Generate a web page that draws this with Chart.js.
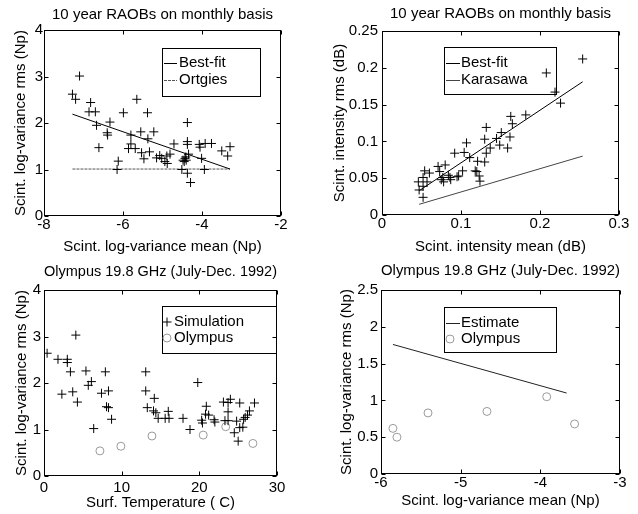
<!DOCTYPE html>
<html>
<head>
<meta charset="utf-8">
<script src="https://cdn.jsdelivr.net/npm/chart.js@4.4.1/dist/chart.umd.min.js"></script>
<style>
  body { margin: 0; background: #fff; }
  #wrap { position: relative; width: 638px; height: 514px; overflow: hidden; }
  canvas { position: absolute; }
</style>
</head>
<body>
<div id="wrap">
  <canvas id="raob-log" width="319" height="257" style="left:0;top:0"></canvas>
  <canvas id="raob-int" width="319" height="257" style="left:319px;top:0"></canvas>
  <canvas id="oly-temp" width="319" height="257" style="left:0;top:257px"></canvas>
  <canvas id="oly-log" width="319" height="257" style="left:319px;top:257px"></canvas>
</div>
<script>
const FONT = "'Liberation Sans', Arial, Helvetica, sans-serif";

// top left: 10 year RAOBs, log-variance (Np)
const raobLogMean = [-7.10, -7.28, -7.20, -6.82, -6.86, -6.70, -6.67, -6.33, -6.40, -6.39, -6.61, -6.12, -6.15, -5.65,
	-5.99, -5.38, -5.55, -5.80, -5.80, -5.86, -5.69, -5.53, -5.47, -5.37, -5.33, -5.22, -5.15, -5.02, -4.89, -4.94,
	-4.88, -4.81, -4.71, -4.51, -4.45, -4.43, -4.37, -4.37, -4.37, -4.34, -4.40, -4.37, -4.29, -4.07, -3.92, -3.76,
	-4.01, -3.94, -3.50, -3.35, -3.29, -5.07, -4.48, -4.05, -4.41];
const raobLogRms = [3.01, 2.62, 2.51, 2.44, 2.24, 2.24, 1.95, 2.02, 1.79, 1.74, 1.47, 1.18, 1.00, 2.51,
	2.22, 2.22, 1.81, 1.74, 1.55, 1.45, 1.45, 1.36, 1.23, 1.66, 1.38, 1.81, 1.25, 1.24, 1.29, 1.17,
	1.13, 1.33, 1.55, 1.00, 1.17, 1.24, 2.01, 1.60, 1.54, 1.33, 1.20, 0.92, 0.72, 1.54, 1.56, 1.56,
	1.24, 1.00, 1.40, 1.29, 1.49, 1.30, 1.20, 1.48, 1.27];
const bestFitLogMean = [-7.28, -3.29];
const bestFitLogRms = [2.19, 1.01];
const ortgiesLogMean = [-7.28, -3.29];
const ortgiesLogRms = [1.01, 1.01];

// top right: 10 year RAOBs, intensity (dB)
const raobIntMean = [0.254, 0.208, 0.219, 0.226, 0.182, 0.163, 0.165, 0.132, 0.151, 0.145, 0.162, 0.130, 0.107, 0.137,
	0.132, 0.159, 0.149, 0.092, 0.104, 0.111, 0.121, 0.130, 0.080, 0.071, 0.073, 0.102, 0.118, 0.120, 0.123, 0.124,
	0.054, 0.060, 0.052, 0.057, 0.046, 0.052, 0.047, 0.052, 0.075, 0.078, 0.086, 0.095, 0.087, 0.097, 0.084, 0.077];
const raobIntRms = [0.212, 0.193, 0.167, 0.152, 0.136, 0.134, 0.124, 0.119, 0.112, 0.104, 0.106, 0.103, 0.098, 0.091,
	0.084, 0.091, 0.095, 0.084, 0.085, 0.078, 0.073, 0.072, 0.068, 0.066, 0.059, 0.060, 0.060, 0.059, 0.053, 0.046,
	0.060, 0.057, 0.051, 0.045, 0.045, 0.039, 0.034, 0.024, 0.048, 0.045, 0.051, 0.052, 0.048, 0.053, 0.054, 0.051];
const bestFitIntMean = [0.047, 0.254];
const bestFitIntRms = [0.033, 0.181];
const karasawaIntMean = [0.047, 0.254];
const karasawaIntRms = [0.0145, 0.080];

// bottom left: Olympus 19.8 GHz vs surface temperature
const simTemp = [0.4, 1.8, 3.0, 3.0, 3.4, 4.1, 2.3, 3.7, 4.3, 5.4, 5.7, 6.1, 6.4, 7.4, 7.9, 8.3, 8.05, 8.3, 8.7,
	13.1, 13.1, 14.2, 13.3, 14.1, 14.4, 14.7, 15.6, 16.0, 16.1, 17.9, 18.8, 19.8, 20.9, 20.8, 21.2, 20.3, 20.4,
	21.9, 22.0, 23.1, 23.7, 24.0, 23.7, 23.3, 23.7, 25.2, 27.1, 26.45, 26.2, 25.9, 25.7, 24.8, 25.2, 25.6, 24.5, 25.0];
const simRms = [2.64, 2.51, 2.51, 2.44, 2.24, 3.03, 1.76, 1.81, 1.59, 2.26, 1.95, 2.03, 1.02, 1.78, 2.24, 1.83, 1.49, 1.47, 1.22,
	2.24, 1.83, 1.67, 1.47, 1.40, 1.36, 1.24, 1.24, 1.39, 1.24, 1.24, 1.00, 2.01, 1.50, 1.33, 1.31, 1.20, 1.14,
	1.21, 1.16, 1.59, 1.58, 1.65, 1.38, 1.19, 1.19, 1.57, 1.57, 1.40, 1.31, 1.26, 1.22, 1.18, 1.04, 1.05, 0.93, 0.75];
const olyTemp = [7.2, 9.9, 13.9, 20.5, 23.4, 26.9];
const olyTempRms = [0.54, 0.64, 0.86, 0.88, 1.06, 0.70];

// bottom right: Olympus 19.8 GHz vs log-variance mean
const olyLogMean = [-5.85, -5.80, -5.41, -4.67, -3.92, -3.57];
const olyLogRms = [0.62, 0.50, 0.83, 0.85, 1.05, 0.68];
const estimateLogMean = [-5.85, -3.67];
const estimateLogRms = [1.76, 1.10];

// tick labels
const ticksLogMean = [-8, -6, -4, -2];
const ticksLogRms = [0, 1, 2, 3, 4];
const ticksIntMean = [0, 0.1, 0.2, 0.3];
const ticksIntRms = [0, 0.05, 0.1, 0.15, 0.2, 0.25];
const ticksTemp = [0, 10, 20, 30];
const ticksOlyMean = [-6, -5, -4, -3];
const ticksOlyRms = [0, 0.5, 1, 1.5, 2, 2.5];

const pts = (xs, ys) => xs.map((x, i) => ({ x, y: ys[i] }));

const crosses = (label, xs, ys) => ({
	label,
	data: pts(xs, ys),
	pointStyle: "cross",
	pointRadius: 4.5,
	pointBorderWidth: 1,
	borderColor: "#000",
	backgroundColor: "#000",
});
const circles = (label, xs, ys) => ({
	label,
	data: pts(xs, ys),
	pointStyle: "circle",
	pointRadius: 4,
	pointBorderWidth: 1,
	borderColor: "#9a9a9a",
	backgroundColor: "rgba(0,0,0,0)",
});
const line = (label, xs, ys, color, dash) => ({
	label,
	data: pts(xs, ys),
	showLine: true,
	pointRadius: 0,
	borderWidth: 1,
	borderColor: color,
	borderDash: dash || [],
});

// box round the axes, inward ticks on all sides, and the boxed legend
const frame = {
	id: "frame",
	afterDatasetsDraw(chart, args, opts) {
		const { ctx, chartArea: a, scales } = chart;
		const L = Math.round(a.left) + 0.5, R = Math.round(a.right) - 0.5;
		const T = Math.round(a.top) + 0.5, B = Math.round(a.bottom) - 0.5;
		ctx.save();
		ctx.strokeStyle = "#000";
		ctx.lineWidth = 1;
		ctx.setLineDash([]);
		ctx.strokeRect(L, T, R - L, B - T);
		ctx.beginPath();
		scales.x.ticks.forEach((t) => {
			const px = Math.round(scales.x.getPixelForValue(t.value)) + 0.5;
			ctx.moveTo(px, B); ctx.lineTo(px, B - 4);
			ctx.moveTo(px, T); ctx.lineTo(px, T + 4);
		});
		scales.y.ticks.forEach((t) => {
			const py = Math.round(scales.y.getPixelForValue(t.value)) + 0.5;
			ctx.moveTo(L, py); ctx.lineTo(L + 4, py);
			ctx.moveTo(R, py); ctx.lineTo(R - 4, py);
		});
		ctx.stroke();

		const lg = opts.legend;
		if (lg) {
			const [bl, bt, br, bb] = lg.box;
			ctx.strokeRect(bl + 0.5, bt + 0.5, br - bl, bb - bt);
			ctx.font = "15px " + FONT;
			ctx.fillStyle = "#000";
			ctx.textBaseline = "middle";
			ctx.textAlign = "left";
			lg.items.forEach((di, i) => {
				const ds = chart.data.datasets[di];
				const y = lg.rows[i];
				ctx.strokeStyle = ds.borderColor;
				if (ds.showLine) {
					ctx.setLineDash(ds.borderDash);
					ctx.beginPath();
					ctx.moveTo(lg.sample[0], y + 0.5);
					ctx.lineTo(lg.sample[1], y + 0.5);
					ctx.stroke();
					ctx.setLineDash([]);
				} else {
					ctx.fillStyle = ds.backgroundColor;
					Chart.helpers.drawPoint(ctx, { pointStyle: ds.pointStyle, radius: ds.pointRadius, rotation: 0, borderWidth: 1 }, lg.marker, y);
					ctx.fillStyle = "#000";
				}
				ctx.fillText(ds.label, lg.textX, y);
			});
		}
		ctx.restore();
	},
};

const makePanel = (id, p) => {
	const tickFont = { family: FONT, size: 15, lineHeight: 1 };
	const titleFont = { family: FONT, size: 15, weight: "normal", lineHeight: 1.2 };
	const axis = (vals, range, fit, tickPad, titleText, titlePad) => ({
		type: "linear",
		min: range[0],
		max: range[1],
		afterBuildTicks: (s) => {
			s.ticks = vals.map((v) => ({ value: v }));
		},
		afterFit: fit,
		grid: { display: false, drawTicks: false },
		border: { display: false },
		ticks: {
			color: "#000",
			font: tickFont,
			padding: tickPad,
			autoSkip: false,
			maxRotation: 0,
			callback: (v) => String(v),
		},
		title: { display: true, text: titleText, color: "#000", font: titleFont, padding: titlePad },
	});

	new Chart(document.getElementById(id), {
		type: "scatter",
		data: { datasets: p.datasets },
		options: {
			responsive: false,
			animation: false,
			layout: { padding: { top: 0, right: p.padRight, bottom: 0, left: 0 } },
			plugins: {
				legend: { display: false },
				tooltip: { enabled: false },
				title: {
					display: true,
					text: p.title,
					fullSize: false,
					color: "#000",
					font: titleFont,
					padding: { top: p.titlePad[0], bottom: p.titlePad[1] },
				},
				frame: { legend: p.legend },
			},
			scales: {
				x: axis(p.xTicks, p.xRange, (s) => { s.height = p.xHeight; }, p.xTickPad, p.xTitle, { top: 0, bottom: p.xTitlePad }),
				y: axis(p.yTicks, p.yRange, (s) => { s.width = p.yWidth; }, p.yTickPad, p.yTitle, { top: p.yTitlePad, bottom: 0 }),
			},
		},
		plugins: [frame],
	});
};

makePanel("raob-log", {
	title: "10 year RAOBs on monthly basis",
	titlePad: [6, 6],
	padRight: 38,
	xHeight: 41, yWidth: 44,
	xTickPad: 1, yTickPad: 1,
	xTitlePad: 1, yTitlePad: 12,
	xTicks: ticksLogMean, xRange: [-8, -2],
	yTicks: ticksLogRms, yRange: [0, 4],
	xTitle: "Scint. log-variance mean (Np)",
	yTitle: "Scint. log-variance rms (Np)",
	datasets: [
		crosses("RAOB", raobLogMean, raobLogRms),
		line("Best-fit", bestFitLogMean, bestFitLogRms, "#000"),
		line("Ortgies", ortgiesLogMean, ortgiesLogRms, "#555", [3, 1]),
	],
	legend: { box: [162, 48, 260, 96], rows: [63, 80], sample: [164, 177], textX: 179, items: [1, 2] },
});

makePanel("raob-int", {
	title: "10 year RAOBs on monthly basis",
	titlePad: [5, 8],
	padRight: 19,
	xHeight: 42, yWidth: 63,
	xTickPad: 1, yTickPad: 4,
	xTitlePad: 1, yTitlePad: 12,
	xTicks: ticksIntMean, xRange: [0, 0.3],
	yTicks: ticksIntRms, yRange: [0, 0.25],
	xTitle: "Scint. intensity mean (dB)",
	yTitle: "Scint. intensity rms (dB)",
	datasets: [
		crosses("RAOB", raobIntMean, raobIntRms),
		line("Best-fit", bestFitIntMean, bestFitIntRms, "#000"),
		line("Karasawa", karasawaIntMean, karasawaIntRms, "#444"),
	],
	legend: { box: [125, 47, 237, 94], rows: [63, 80], sample: [127, 141], textX: 142, items: [1, 2] },
});

makePanel("oly-temp", {
	title: "Olympus 19.8 GHz (July-Dec. 1992)",
	titlePad: [6, 9],
	padRight: 42,
	xHeight: 38, yWidth: 44,
	xTickPad: 4, yTickPad: 3,
	xTitlePad: 2, yTitlePad: 13,
	xTicks: ticksTemp, xRange: [0, 30],
	yTicks: ticksLogRms, yRange: [0, 4],
	xTitle: "Surf. Temperature ( C)",
	yTitle: "Scint. log-variance rms (Np)",
	datasets: [
		crosses("Simulation", simTemp, simRms),
		circles("Olympus", olyTemp, olyTempRms),
	],
	legend: { box: [162, 49, 276, 96], rows: [65, 81], marker: 167, textX: 174, items: [0, 1] },
});

makePanel("oly-log", {
	title: "Olympus 19.8 GHz (July-Dec. 1992)",
	titlePad: [5, 10],
	padRight: 18,
	xHeight: 40, yWidth: 62,
	xTickPad: 1, yTickPad: 3,
	xTitlePad: 4, yTitlePad: 19,
	xTicks: ticksOlyMean, xRange: [-6, -3],
	yTicks: ticksOlyRms, yRange: [0, 2.5],
	xTitle: "Scint. log-variance mean (Np)",
	yTitle: "Scint. log-variance rms (Np)",
	datasets: [
		circles("Olympus", olyLogMean, olyLogRms),
		line("Estimate", estimateLogMean, estimateLogRms, "#222"),
	],
	legend: { box: [125, 50, 237, 95], rows: [66, 82], sample: [127, 141], marker: 131, textX: 142, items: [1, 0] },
});
</script>
</body>
</html>
